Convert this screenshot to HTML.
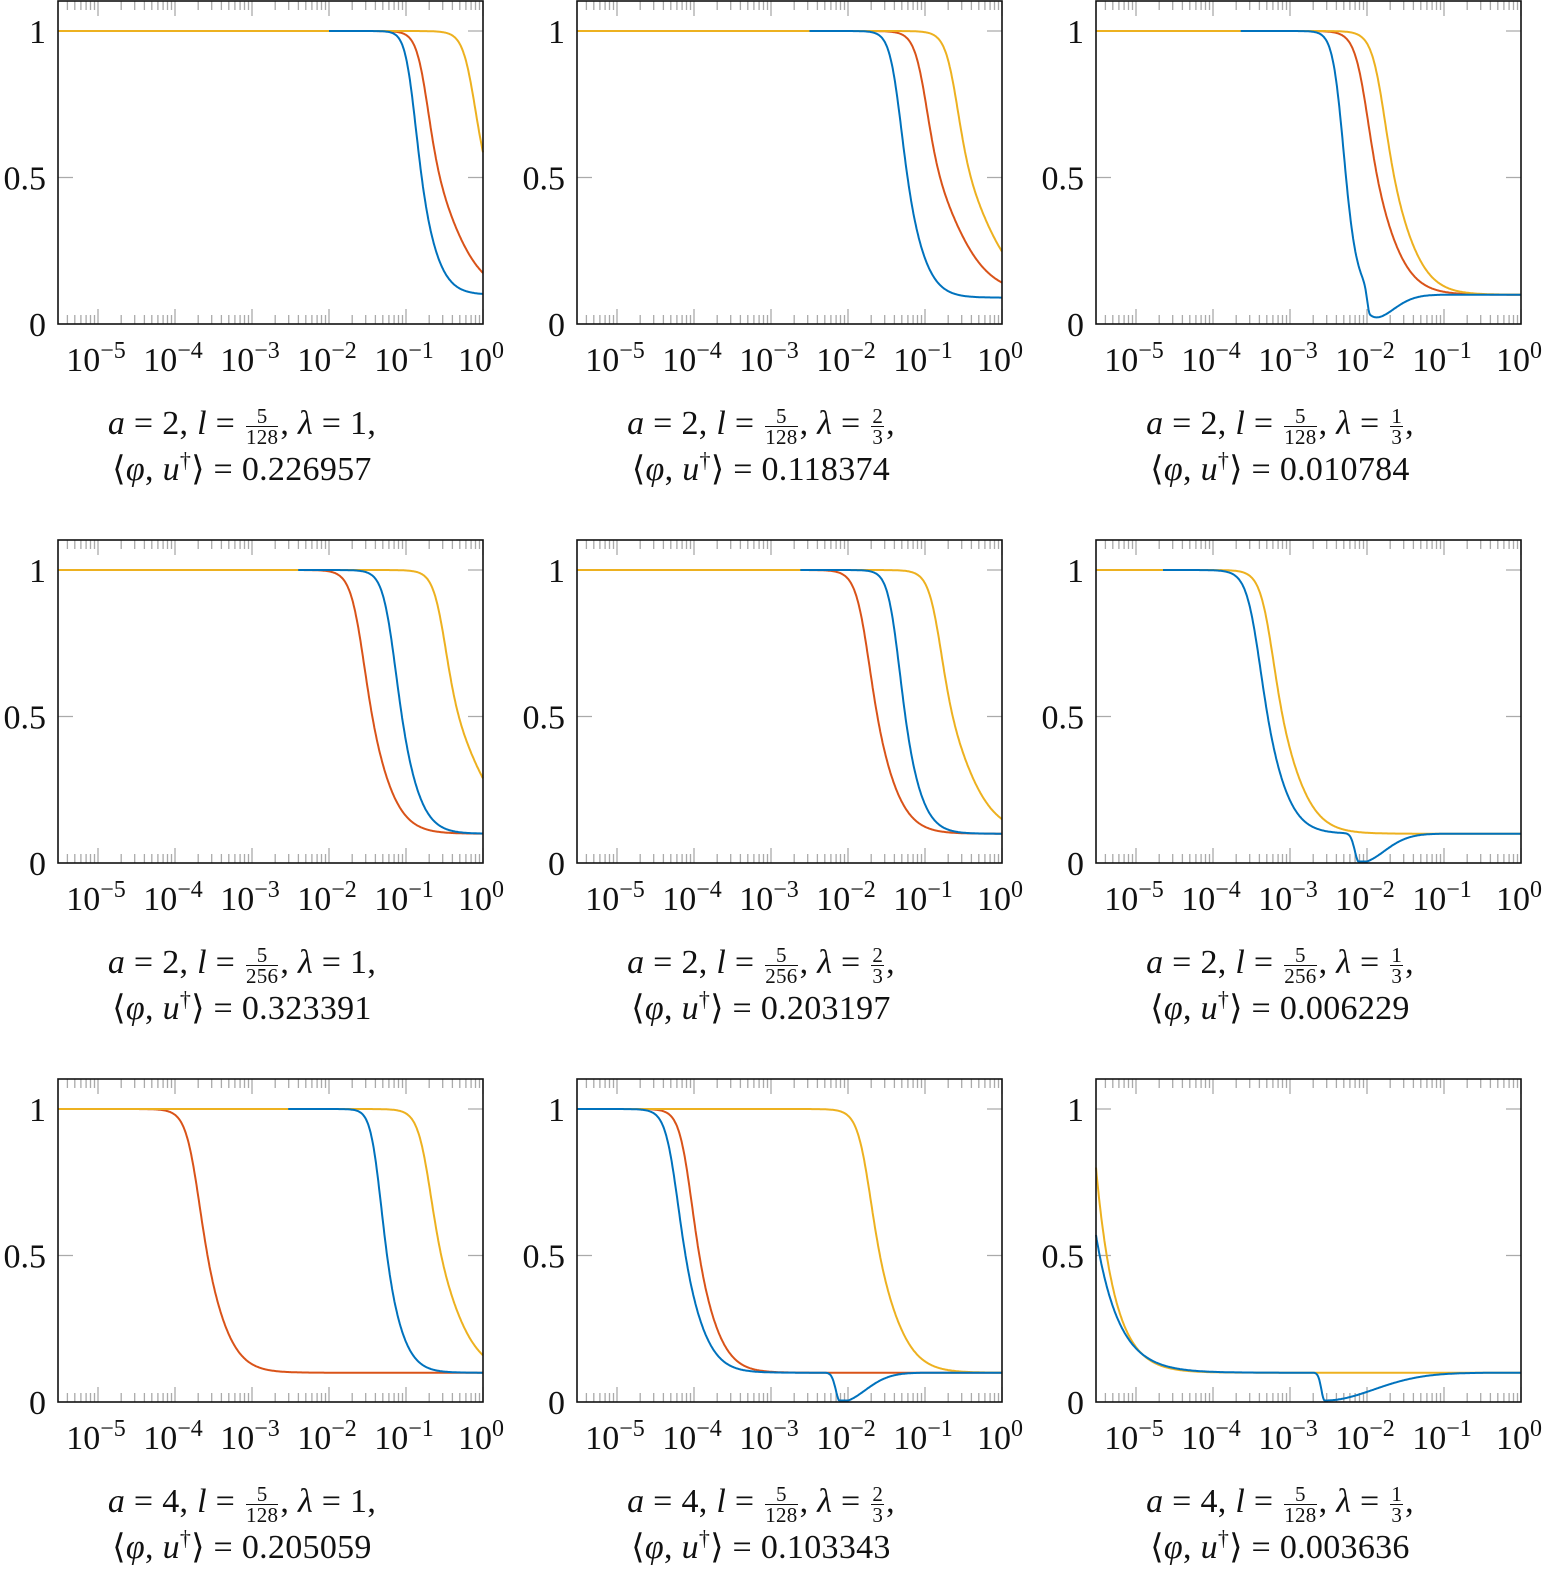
<!DOCTYPE html>
<html><head><meta charset="utf-8">
<style>
html,body{margin:0;padding:0;background:#fff;}
body{width:1550px;height:1576px;position:relative;overflow:hidden;font-family:"Liberation Serif","DejaVu Serif",serif;}
svg{position:absolute;left:0;top:0;}
.cap{position:absolute;width:520px;text-align:center;font-size:34px;line-height:46px;color:#111;letter-spacing:0.3px;}
.cap i{font-style:italic;}
.fr{display:inline-block;vertical-align:middle;font-size:21px;line-height:20px;text-align:center;margin:0 2px;}
.fr span{display:block;}
.fr span.n{border-bottom:1.4px solid #111;padding:0 1px;}
</style></head><body>
<svg id="s" width="1550" height="1576" xmlns="http://www.w3.org/2000/svg"></svg>
<div id="caps"></div>
<script>
var NS="http://www.w3.org/2000/svg",S=document.getElementById('s');
function el(t,a,txt){var e=document.createElementNS(NS,t);for(var k in a)e.setAttribute(k,a[k]);if(txt!==undefined)e.textContent=txt;S.appendChild(e);return e;}
function logi(t,p){var s=1/(1+Math.exp(-(t-p.c)/0.12));var w=p.wl+(p.wr-p.wl)*s;var z=(t-p.c)/w;return p.f+(1-p.f)/(1+Math.exp(z));}
function dip(t,d){if(!d)return 0;var w=t<d.t?d.wl:d.wr;return d.a*Math.exp(-Math.pow((t-d.t)/w,2));}
var B='#0072BD',R='#D95319',Y='#EDB120';
var P=[
 {b:{c:-0.82,wl:0.07,wr:0.14,f:0.1,s:-2},r:{c:-0.6,wl:0.09,wr:0.25,f:0.1},y:{c:0.03,wl:0.1,wr:0.3,f:0.1}},
 {b:{c:-1.25,wl:0.08,wr:0.15,f:0.09,s:-2.5},r:{c:-0.85,wl:0.1,wr:0.28,f:0.1},y:{c:-0.45,wl:0.1,wr:0.28,f:0.1}},
 {b:{c:-2.29,wl:0.07,wr:0.09,f:0.1,s:-3.64,d:{t:-1.96,a:0.09,wl:0.05,wr:0.4}},r:{c:-1.9,wl:0.1,wr:0.2,f:0.1},y:{c:-1.68,wl:0.1,wr:0.2,f:0.1}},
 {b:{c:-1.08,wl:0.09,wr:0.15,f:0.1,s:-2.4},r:{c:-1.47,wl:0.1,wr:0.18,f:0.1},y:{c:-0.36,wl:0.1,wr:0.28,f:0.1}},
 {b:{c:-1.28,wl:0.08,wr:0.14,f:0.1,s:-2.62},r:{c:-1.65,wl:0.1,wr:0.18,f:0.1},y:{c:-0.68,wl:0.1,wr:0.24,f:0.1}},
 {b:{c:-3.32,wl:0.1,wr:0.17,f:0.1,s:-4.65,d:{t:-2.1,a:0.1,wl:0.08,wr:0.45}},y:{c:-3.13,wl:0.1,wr:0.2,f:0.1}},
 {b:{c:-1.27,wl:0.07,wr:0.14,f:0.1,s:-2.53},r:{c:-3.61,wl:0.1,wr:0.18,f:0.1},y:{c:-0.58,wl:0.1,wr:0.22,f:0.1}},
 {b:{c:-4.14,wl:0.09,wr:0.17,f:0.1,s:-5.52,d:{t:-2.1,a:0.1,wl:0.08,wr:0.45}},r:{c:-3.96,wl:0.09,wr:0.17,f:0.1},y:{c:-1.62,wl:0.1,wr:0.2,f:0.1}},
 {b:{exp:true,a:0.47,k:0.3,f:0.1,s:-5.52,d:{t:-2.55,a:0.095,wl:0.06,wr:0.9}},y:{exp:true,a:0.7,k:0.25,f:0.1}}
];
function val(t,p){var v=p.exp?p.f+p.a*Math.exp(-(t+5.52)/p.k):logi(t,p);return v-dip(t,p.d);}
var caps=[["2","128","1","0.226957"],["2","128","2/3","0.118374"],["2","128","1/3","0.010784"],
["2","256","1","0.323391"],["2","256","2/3","0.203197"],["2","256","1/3","0.006229"],
["4","128","1","0.205059"],["4","128","2/3","0.103343"],["4","128","1/3","0.003636"]];
var ch='';
for(var i=0;i<9;i++){
 var col=i%3,row=Math.floor(i/3),ox=col*519,oy=row*539;
 var L=58+ox,Rr=483+ox,T=1+oy,Bt=324+oy;
 var X=function(t){return Rr+77*t;},Yf=function(y){return Bt-293*y;};
 var tk='';
 for(var d=-6;d<=0;d++){for(var m=1;m<=9;m++){var t=d+Math.log10(m);if(t<-5.52||t>0.001)continue;var x=X(t).toFixed(1),len=m==1?15:9;
  tk+='M'+x+' '+Bt+'v-'+len+'M'+x+' '+T+'v'+len;}}
 [0.5,1].forEach(function(v){var y=Yf(v);tk+='M'+L+' '+y+'h15M'+Rr+' '+y+'h-15';});
 el('path',{d:tk,stroke:'#aaa','stroke-width':1.3,fill:'none'});
 var p=P[i];
 function line(pp,color,start){var d='';for(var t=start;t<=0.0001;t+=0.01){d+=(d?'L':'M')+X(t).toFixed(1)+' '+Yf(Math.max(0.005,val(t,pp))).toFixed(1);}
  el('path',{d:d,stroke:color,'stroke-width':2,fill:'none','stroke-linejoin':'round'});}
 if(p.r)line(p.r,R,-5.52);
 line(p.y,Y,-5.52);
 line(p.b,B,p.b.s);
 el('rect',{x:L,y:T,width:Rr-L,height:Bt-T,fill:'none',stroke:'#111','stroke-width':1.6});
 for(var d=-5;d<=0;d++){var g=el('text',{x:X(d)-2,y:371+oy,'font-size':34,'text-anchor':'middle',fill:'#111','font-family':'Liberation Serif, serif'});
  g.innerHTML='10<tspan dy="-13" font-size="24">'+(d<0?'\u2212'+(-d):'0')+'</tspan>';}
 [[1,'1'],[0.5,'0.5'],[0,'0']].forEach(function(a){el('text',{x:46+ox,y:Yf(a[0])+12,'font-size':34,'text-anchor':'end',fill:'#111','font-family':'Liberation Serif, serif'},a[1]);});
 var c=caps[i],lam=c[2].indexOf('/')>0?'<span class="fr"><span class="n">'+c[2][0]+'</span><span>'+c[2][2]+'</span></span>':c[2];
 ch+='<div class="cap" style="left:'+(242+col*519-260)+'px;top:'+(401+oy)+'px"><i>a</i> = '+c[0]+', <i>l</i> = <span class="fr"><span class="n">5</span><span>'+c[1]+'</span></span>, <i>λ</i> = '+lam+',<br>⟨<i>φ</i>, <i>u</i><sup style="font-size:22px;line-height:0">†</sup>⟩ = '+c[3]+'</div>';
}
document.getElementById('caps').innerHTML=ch;
</script>
</body></html>
